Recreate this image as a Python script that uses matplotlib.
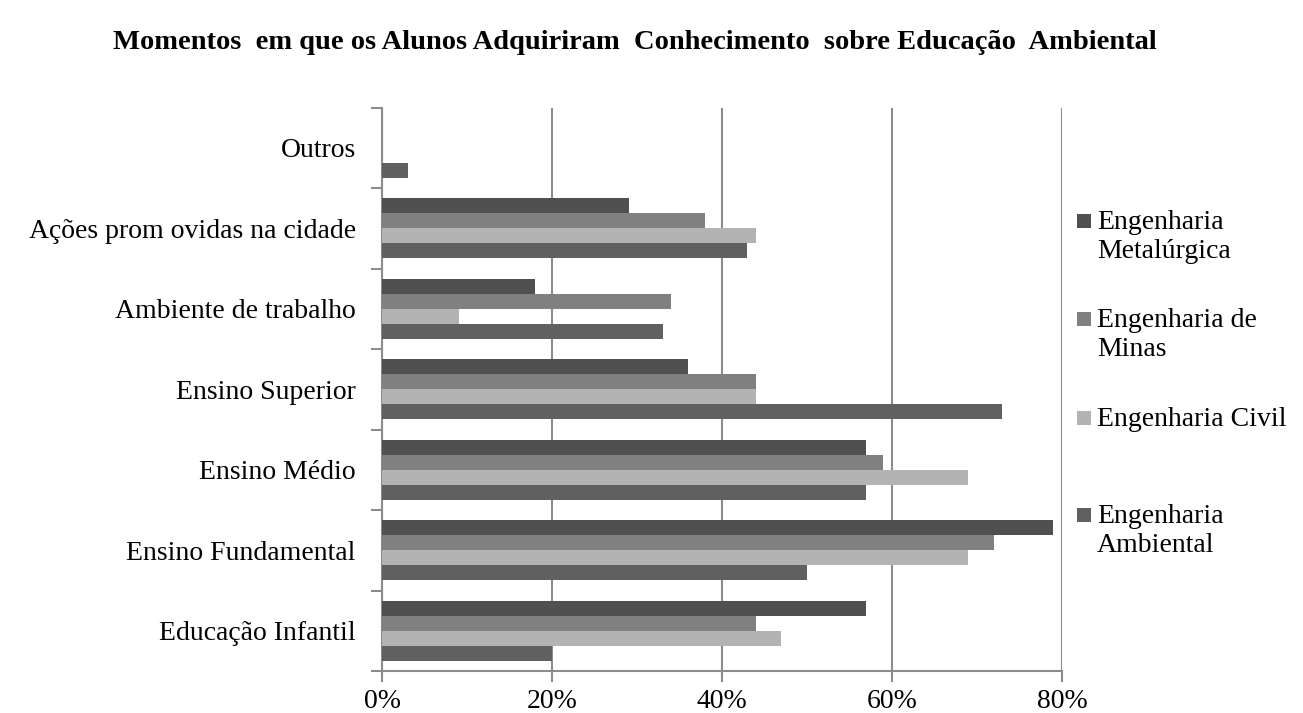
import matplotlib as mpl
mpl.use('Agg')
import matplotlib.pyplot as plt
from matplotlib.patches import Rectangle
import numpy as np

plt.rcParams['font.family'] = ['Liberation Serif', 'DejaVu Serif']

# categories from bottom to top
categories = ['Educação Infantil', 'Ensino Fundamental', 'Ensino Médio',
              'Ensino Superior', 'Ambiente de trabalho',
              'Ações prom ovidas na cidade', 'Outros']

series = ['Engenharia\nMetalúrgica', 'Engenharia de\nMinas',
          'Engenharia Civil', 'Engenharia\nAmbiental']

metalurgica = [57, 79, 57, 36, 18, 29, 0]
minas = [44, 72, 59, 44, 34, 38, 0]
civil = [47, 69, 69, 44, 9, 44, 0]
ambiental = [20, 50, 57, 73, 33, 43, 3]

colors = ['#505050', '#808080', '#b3b3b3', '#606060']
grid_col = '#8c8c8c'

fig = plt.figure(figsize=(13.03, 7.13), dpi=100)
ax = fig.add_axes([0.2932, 0.0589, 0.815 - 0.2932, 0.849 - 0.0589])

y = np.arange(len(categories))
h = 0.187
vals = [metalurgica, minas, civil, ambiental]
# top bar = Metalurgica, bottom = Ambiental
offsets = [1.5 * h, 0.5 * h, -0.5 * h, -1.5 * h]
for v, off, c, lab in zip(vals, offsets, colors, series):
    ax.barh(y + off, v, height=h, color=c, linewidth=0, label=lab, zorder=3)

ax.set_xlim(0, 80)
ax.set_ylim(-0.5, len(categories) - 0.5)
ax.set_xticks([0, 20, 40, 60, 80])
ax.set_xticklabels(['0%', '20%', '40%', '60%', '80%'], fontsize=20)
ax.xaxis.grid(True, color=grid_col, linewidth=1.5, zorder=0)

# category labels at centers, ticks at boundaries
ax.set_yticks(np.arange(-0.5, len(categories), 1.0))
ax.set_yticklabels([])
ax.set_yticks(y, minor=True)
ax.set_yticklabels(categories, minor=True, fontsize=20)
ax.tick_params(axis='y', which='minor', length=0, pad=19)
ax.tick_params(axis='y', which='major', length=8, width=1.5, color=grid_col)
ax.tick_params(axis='x', length=8, width=1.5, color=grid_col, pad=5)

for s in ['top', 'right']:
    ax.spines[s].set_visible(False)
for s in ['left', 'bottom']:
    ax.spines[s].set_color(grid_col)
    ax.spines[s].set_linewidth(1.5)

# legend drawn by hand so the square sits on the first line of each label
W, H = 1303.0, 713.0
leg_y = [221, 319, 418, 515]
for lab, c, yy in zip(series, colors, leg_y):
    fig.patches.append(Rectangle((1077 / W, 1 - (yy + 7) / H), 14 / W, 14 / H,
                                 transform=fig.transFigure, facecolor=c,
                                 edgecolor='none'))
    fig.text(1097 / W, 1 - (yy - 11) / H, lab, ha='left', va='top',
             fontsize=20, linespacing=1.2)

fig.text(0.487, 0.94, 'Momentos  em que os Alunos Adquiriram  Conhecimento  sobre Educação  Ambiental',
         ha='center', va='center', fontsize=20.5, fontweight='bold')

plt.savefig('out.png', dpi=100)
